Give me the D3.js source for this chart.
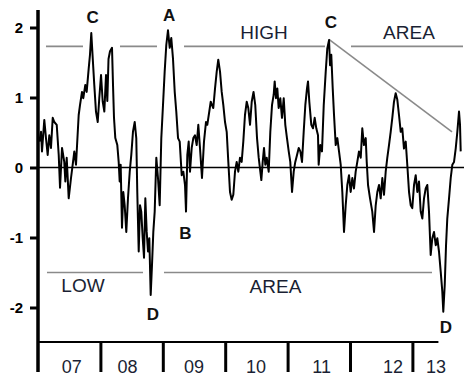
<!DOCTYPE html>
<html>
<head>
<meta charset="utf-8">
<script src="https://cdn.jsdelivr.net/npm/d3@7"></script>
<style>
  html, body { margin: 0; padding: 0; background: #fff; }
  svg { display: block; }
  text { font-family: "Liberation Sans", Arial, sans-serif; }
</style>
</head>
<body>
<svg id="chart" width="464" height="381"></svg>
<script>
// ---- data ----
const yearsFrom2007 = [
  0.021,0.048,0.064,0.101,0.128,0.155,0.181,0.208,0.236,0.261,0.300,0.332,0.353,0.385,0.421,0.438,0.460,0.492,0.529,0.556,0.582,0.609,0.652,0.673,0.705,0.726,0.758,0.780,0.813,0.833,0.854,0.877,0.902,0.929,0.957,0.982,1.010,1.037,1.063,1.090,1.111,1.130,1.154,1.186,1.202,
  1.218,1.239,1.271,1.293,1.309,1.325,1.346,1.367,1.389,1.415,1.442,1.470,1.495,1.522,1.550,1.575,1.591,1.614,1.635,1.655,1.678,1.699,1.720,1.742,1.763,1.784,1.806,1.827,1.848,1.870,1.896,1.923,1.950,1.976,2.003,2.030,2.056,2.083,2.111,2.136,2.163,2.191,2.216,2.244,2.271,
  2.303,2.329,2.356,2.372,2.393,2.415,2.436,2.463,2.489,2.516,2.543,2.569,2.596,2.628,2.660,2.692,2.713,2.745,2.768,2.788,2.809,2.837,2.864,2.889,2.917,2.944,2.970,2.997,3.024,3.050,3.077,3.104,3.130,3.157,3.184,3.210,3.237,3.264,3.290,3.317,3.345,3.370,3.398,3.425,3.454,
  3.482,3.510,3.537,3.563,3.579,3.601,3.622,3.643,3.665,3.697,3.723,3.750,3.777,3.793,3.814,3.835,3.857,3.883,3.910,3.938,3.963,3.990,4.018,4.043,4.071,4.098,4.123,4.151,4.178,4.204,4.231,4.258,4.284,4.311,4.327,4.348,4.380,4.407,4.434,4.460,4.487,4.498,4.524,4.551,4.579,
  4.611,4.636,4.664,4.680,4.700,4.723,4.744,4.771,4.797,4.824,4.851,4.877,4.904,4.931,4.957,4.984,5.011,5.037,5.064,5.091,5.117,5.144,5.172,5.197,5.224,5.252,5.268,5.289,5.321,5.357,5.385,5.412,5.438,5.465,5.492,5.518,5.545,5.572,5.598,5.625,5.652,5.678,5.705,5.732,5.758,
  5.785,5.813,5.838,5.865,5.893,5.918,5.946,5.973,5.998,6.026,6.053,6.079,6.106,6.133,6.159,6.186,6.213,6.239,6.266,6.293,6.319,6.346,6.374,6.399,6.426,6.454,6.479,6.495,6.518,6.539,6.559,6.587,6.614,6.640,6.667,6.694,6.720,6.747,6.763,6.774
];
const indexValues = [
  0.37,0.51,0.23,0.68,0.42,0.18,0.46,0.28,0.71,0.65,0.61,0.18,-0.29,0.28,0.08,-0.20,0.14,-0.44,-0.15,0.04,0.23,0.04,0.75,0.89,1.08,0.99,1.18,1.08,1.42,1.61,1.92,1.56,1.18,0.80,0.65,0.99,1.32,0.94,0.80,1.32,0.95,1.55,1.66,1.71,1.18,
  0.71,0.42,0.32,0.08,-0.20,0.04,-0.86,-0.35,-0.54,-0.92,-0.44,-0.06,0.18,0.51,0.65,0.42,-0.35,-1.20,-0.54,-0.63,-1.01,-1.29,-0.44,-0.92,-1.20,-1.01,-1.82,-1.39,-0.92,-0.63,0.14,-0.15,-0.54,0.42,0.89,1.37,1.75,1.96,1.71,1.85,1.56,1.08,0.80,0.42,0.37,
  -0.11,-0.06,-0.25,-0.63,0.18,0.37,-0.06,0.28,0.42,0.46,0.32,0.61,0.28,-0.15,0.37,0.65,0.61,0.80,0.94,0.89,0.85,1.13,1.37,1.54,1.37,1.08,0.89,0.65,0.51,0.08,-0.35,-0.46,-0.39,-0.06,0.08,-0.06,0.14,0.08,0.37,0.75,0.94,0.85,0.61,0.94,1.08,
  0.89,0.42,0.14,-0.06,-0.18,0.08,0.28,0.04,0.14,-0.06,0.51,0.89,1.04,1.23,0.99,1.13,0.85,0.99,0.71,0.99,0.61,0.42,0.23,0.08,-0.35,-0.06,0.08,0.18,0.28,0.23,0.08,0.51,0.89,1.13,1.23,0.94,0.61,0.56,0.71,0.56,0.46,0.04,0.32,0.23,0.89,
  1.37,1.70,1.82,1.46,1.61,1.13,0.75,0.32,0.42,0.23,0.04,-0.35,-0.92,-0.54,-0.25,-0.11,-0.35,-0.15,-0.30,-0.06,0.08,0.23,0.14,0.56,0.32,0.42,0.08,-0.25,-0.44,-0.63,-0.92,-0.54,-0.35,-0.25,-0.44,-0.15,-0.39,-0.06,0.14,0.32,0.51,0.71,0.94,1.06,0.97,
  0.75,0.51,0.56,0.27,0.37,0.04,-0.35,-0.54,-0.58,-0.25,-0.11,-0.35,-0.20,-0.63,-0.73,-0.44,-0.30,-0.25,-0.63,-1.25,-1.01,-0.92,-1.11,-1.01,-1.20,-1.49,-1.77,-2.06,-1.68,-1.11,-0.73,-0.44,-0.15,0.04,0.08,0.27,0.51,0.80,0.61,0.23
];
const yTickValues = [-2, -1, 0, 1, 2];
const yearBreaks = [1, 2, 3, 4, 5, 6];          // year boundaries (years from 2007)
const yearLabels = ["07", "08", "09", "10", "11", "12", "13"];
const yearLabelAt = [0.54, 1.435, 2.5, 3.494, 4.546, 5.69, 6.38];
const highLevel = 1.73;
const lowLevel = -1.50;
const highSegments = [[0.128, 0.721], [1.314, 1.907], [2.340, 4.599], [5.016, 6.811]];
const lowSegments = [[0.144, 1.683], [2.019, 6.314]];
const trendLine = [[4.663, 1.83], [6.635, 0.51]];
const pointLabels = [
  {text: "C", t: 0.875, v: 2.07},
  {text: "A", t: 2.10, v: 2.10},
  {text: "B", t: 2.362, v: -1.02},
  {text: "D", t: 1.843, v: -2.18},
  {text: "C", t: 4.695, v: 2.0},
  {text: "D", t: 6.538, v: -2.36}
];
const zoneLabels = [
  {text: "HIGH", t: 3.622, v: 1.84},
  {text: "AREA", t: 5.945, v: 1.83},
  {text: "LOW", t: 0.721, v: -1.78},
  {text: "AREA", t: 3.806, v: -1.79}
];

// ---- layout ----
const svg = d3.select("#chart");
const x = d3.scaleLinear().domain([0, 7]).range([38, 38 + 7 * 62.4]);
const y = d3.scaleLinear().domain([-2, 2]).range([307.5, 27.5]);
const xAxisEnd = 6.417;

// gray reference lines
const gray = "#8a8a8a";
svg.append("g").selectAll("line.h")
  .data(highSegments.map(s => [s, highLevel]).concat(lowSegments.map(s => [s, lowLevel])))
  .join("line")
  .attr("x1", d => x(d[0][0])).attr("x2", d => x(d[0][1]))
  .attr("y1", d => y(d[1])).attr("y2", d => y(d[1]))
  .attr("stroke", gray).attr("stroke-width", 1.6);
svg.append("line")
  .attr("x1", x(trendLine[0][0])).attr("y1", y(trendLine[0][1]))
  .attr("x2", x(trendLine[1][0])).attr("y2", y(trendLine[1][1]))
  .attr("stroke", gray).attr("stroke-width", 1.6);

// zero line
svg.append("line")
  .attr("x1", x(0)).attr("x2", 464)
  .attr("y1", y(0)).attr("y2", y(0))
  .attr("stroke", "#000").attr("stroke-width", 1.5);

// data line
const pts = yearsFrom2007.map((t, i) => [t, indexValues[i]]);
svg.append("path")
  .datum(pts)
  .attr("fill", "none")
  .attr("stroke", "#000")
  .attr("stroke-width", 2)
  .attr("stroke-linejoin", "round")
  .attr("d", d3.line().x(d => x(d[0])).y(d => y(d[1])));

// y axis
const yAxis = d3.axisLeft(y).tickValues(yTickValues).tickSize(8).tickPadding(7)
  .tickFormat(d => String(d));
const gy = svg.append("g").attr("transform", `translate(${x(0)},0)`).call(yAxis);
gy.select(".domain").remove();
gy.selectAll(".tick line").attr("stroke", "#000").attr("stroke-width", 3);
gy.selectAll(".tick text")
  .attr("fill", "#000")
  .style("font-family", "'Liberation Sans', Arial, sans-serif")
  .style("font-size", "15px").style("font-weight", "bold");
svg.append("line")
  .attr("x1", x(0)).attr("x2", x(0)).attr("y1", 10).attr("y2", 372)
  .attr("stroke", "#000").attr("stroke-width", 3.5);

// x axis
svg.append("line")
  .attr("x1", x(0)).attr("x2", x(xAxisEnd)).attr("y1", 342).attr("y2", 342)
  .attr("stroke", "#000").attr("stroke-width", 2);
const xAxis = d3.axisBottom(x).tickValues(yearBreaks).tickSize(30).tickFormat("");
const gx = svg.append("g").attr("transform", "translate(0,342)").call(xAxis);
gx.select(".domain").remove();
gx.selectAll(".tick line").attr("stroke", "#000").attr("stroke-width", 3);
svg.append("g").selectAll("text")
  .data(yearLabels)
  .join("text")
  .attr("x", (d, i) => x(yearLabelAt[i]))
  .attr("y", 373)
  .attr("text-anchor", "middle")
  .attr("fill", "#1a1f33")
  .style("font-size", "18px")
  .text(d => d);

// point labels
svg.append("g").selectAll("text")
  .data(pointLabels)
  .join("text")
  .attr("x", d => x(d.t)).attr("y", d => y(d.v))
  .attr("text-anchor", "middle")
  .attr("fill", "#111")
  .style("font-size", "17px").style("font-weight", "bold")
  .text(d => d.text);

// zone labels
svg.append("g").selectAll("text")
  .data(zoneLabels)
  .join("text")
  .attr("x", d => x(d.t)).attr("y", d => y(d.v))
  .attr("text-anchor", "middle")
  .attr("fill", "#1a1f33")
  .style("font-size", "19px")
  .text(d => d.text);
</script>
</body>
</html>
